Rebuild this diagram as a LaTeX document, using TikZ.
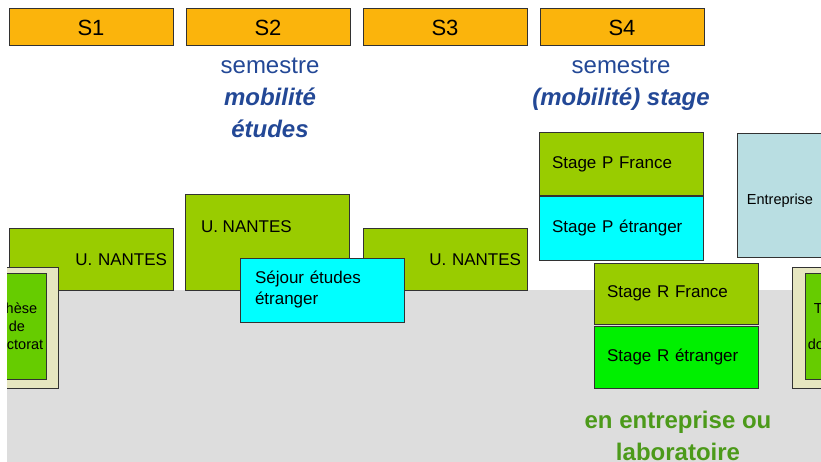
\documentclass[tikz,border=0pt]{standalone}
\usepackage{fontspec}
\setmainfont{Liberation Sans}
\usetikzlibrary{positioning}

\definecolor{semorange}{RGB}{251,180,12}
\definecolor{nantesgreen}{RGB}{153,204,0}
\definecolor{thesegreen}{RGB}{102,204,0}
\definecolor{thesebeige}{RGB}{230,230,192}
\definecolor{stagecyan}{RGB}{0,255,255}
\definecolor{stagegreen}{RGB}{0,240,0}
\definecolor{entrblue}{RGB}{185,222,226}
\definecolor{bggray}{RGB}{221,221,221}
\definecolor{titleblue}{RGB}{35,72,150}
\definecolor{labgreen}{RGB}{76,154,26}
\definecolor{edge}{RGB}{50,50,50}

\begin{document}
\begin{tikzpicture}[x=1pt, y=-1pt, node distance=177pt, on grid,
    box/.style={rectangle, draw=edge, line width=1pt, inner sep=0pt, minimum width=164pt},
    sembox/.style={box, fill=semorange, minimum height=37pt, font=\fontsize{22}{26}\selectfont},
    nantes/.style={box, fill=nantesgreen, inner xsep=6pt, text width=152pt, align=right, font=\fontsize{17}{20}\selectfont},
    stagebox/.style={box, inner xsep=13pt, text width=138pt, align=left, font=\fontsize{17}{21}\selectfont},
    theseframe/.style={rectangle, fill=thesebeige, draw=edge, line width=0.6pt, inner sep=0pt, minimum width=84pt, minimum height=121pt},
    thesebox/.style={rectangle, fill=thesegreen, draw=edge, line width=0.6pt, inner sep=0pt, minimum width=58pt, minimum height=106pt, align=center, font=\fontsize{14.5}{18}\selectfont},
    semtext/.style={text=titleblue, align=center, font=\fontsize{24}{32}\selectfont}]

\useasboundingbox (0,0) rectangle (821,462);
\clip (7,0) rectangle (821,462);

% semestres
\node[sembox] (S1) at (91,27.5) {S1};
\node[sembox, right=of S1] (S2) {S2};
\node[sembox, right=of S2] (S3) {S3};
\node[sembox, right=of S3] (S4) {S4};

\node[semtext] (sem2) at (270,97.5) {semestre\\\textbf{\textit{mobilité}}\\\textbf{\textit{études}}};
\node[semtext] (sem4) at (621,84) {semestre\\\textbf{\textit{(mobilité) stage}}};

% fond gris
\fill[bggray] (7,290) rectangle (821,462);

\node[nantes, minimum height=61pt] (UN1) at (91,259.5) {U. NANTES};
\node[nantes, minimum height=61pt] (UN3) at (445,259.5) {U. NANTES};

\node[stagebox, fill=nantesgreen, minimum height=63pt] (SPF) at (621,164.5) {Stage P France};
\node[stagebox, fill=stagecyan, minimum height=63pt] (SPE) at (621,228.5) {Stage P étranger};
\node[box, fill=entrblue, minimum width=86pt, minimum height=123pt, text height=21pt, font=\fontsize{14.5}{18}\selectfont] (ENT) at (780,195.5) {Entreprise};

% theses
\node[theseframe] (TF1) at (16,327.5) {};
\node[thesebox] (T1) at (17,326) {Thèse\\de\\doctorat};
\node[theseframe] (TF2) at (834,327.5) {};
\node[thesebox] (T2) at (834,326) {Thèse\\de\\doctorat};

% mobilite etudes
\node[box, fill=nantesgreen, minimum height=95pt] (UN2) at (267,242.5) {};
\node[anchor=west, font=\fontsize{17}{20}\selectfont] (UN2txt) at ([shift={(13pt,-32pt)}]UN2.north west) {U. NANTES};
\node[stagebox, fill=stagecyan, inner xsep=15pt, text width=134pt, minimum height=64pt] (SEJ) at (322,290) {Séjour études\\étranger};

% stage recherche
\node[stagebox, fill=nantesgreen, minimum height=61pt] (SRF) at (676,293.5) {Stage R France};
\node[stagebox, fill=stagegreen, minimum height=62pt] (SRE) at (676,357) {Stage R étranger};

\node[text=labgreen, align=center, font=\bfseries\fontsize{24}{32}\selectfont] (LAB) at (678,436) {en entreprise ou\\laboratoire};

\end{tikzpicture}
\end{document}
